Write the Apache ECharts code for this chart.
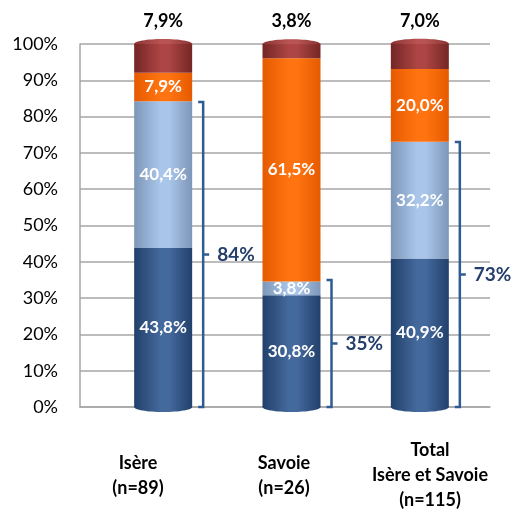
<!DOCTYPE html>
<html>
<head>
<meta charset="utf-8">
<script src="https://cdn.jsdelivr.net/npm/echarts@6/dist/echarts.min.js"></script>
<style>
  html, body { margin: 0; padding: 0; background: #ffffff; }
  #chart { width: 520px; height: 513px; }
</style>
</head>
<body>
<div id="chart"></div>
<script>
// Categories (bottom labels)
const categories = ['Isère\n(n=89)', 'Savoie\n(n=26)', 'Total\nIsère et Savoie\n(n=115)'];

// Stacked shares, in percent, bottom to top
const darkBlueValues  = [43.8, 30.8, 40.9];
const lightBlueValues = [40.4, 3.8, 32.2];
const orangeValues    = [7.9, 61.5, 20.0];
const darkRedValues   = [7.9, 3.8, 7.0];

// Combined share of the two blue segments, shown by the brackets
const bracketValues = [84, 35, 73];

// Value axis
const yMin = 0, yMax = 100, yStep = 10;

const FONT = 'Lato, "Open Sans", sans-serif';
const BAR_WIDTH = 58;
const CAP_RY = 5;

function cylinder(edge, mid) {
  return new echarts.graphic.LinearGradient(0, 0, 1, 0, [
    { offset: 0, color: edge },
    { offset: 0.45, color: mid },
    { offset: 0.6, color: mid },
    { offset: 1, color: edge }
  ]);
}

function pct(v) {
  return v.toFixed(1).replace('.', ',') + '%';
}

// Height of each stacked column, used for the cylinder caps
const stackTotals = categories.map((_, i) =>
  darkBlueValues[i] + lightBlueValues[i] + orangeValues[i] + darkRedValues[i]);

const insideLabel = {
  show: true,
  position: 'inside',
  color: '#ffffff',
  fontFamily: FONT,
  fontWeight: 'bold',
  fontSize: 17,
  formatter: p => pct(p.value)
};

function barSeries(name, data, edge, mid, label) {
  return {
    name: name,
    type: 'bar',
    stack: 'share',
    xAxisIndex: 1,
    yAxisIndex: 1,
    barWidth: BAR_WIDTH,
    data: data,
    itemStyle: { color: cylinder(edge, mid) },
    label: label,
    emphasis: { disabled: true }
  };
}

// Elliptical cap of a column at value v (bottom or top face of the cylinder)
function capSeries(values, edge, mid) {
  return {
    type: 'custom',
    xAxisIndex: 1,
    yAxisIndex: 1,
    silent: true,
    data: values.map((v, i) => [i, v]),
    renderItem: function (params, api) {
      const c = api.coord([api.value(0), api.value(1)]);
      return {
        type: 'ellipse',
        shape: { cx: c[0], cy: c[1], rx: BAR_WIDTH / 2, ry: CAP_RY },
        style: { fill: cylinder(edge, mid) }
      };
    }
  };
}

const chart = echarts.init(document.getElementById('chart'), null, { renderer: 'canvas' });

chart.setOption({
  animation: false,
  backgroundColor: '#ffffff',
  grid: [
    { left: 80, right: 30, top: 44, bottom: 106 },   // back wall with gridlines
    { left: 99, right: 36, top: 44, bottom: 106 },   // bars
    { left: 65, right: 17, top: 44, bottom: 106 }    // category labels
  ],
  xAxis: [
    {
      gridIndex: 0, type: 'category', data: categories,
      axisLine: { show: true, lineStyle: { color: '#a6a6a6', width: 1.5 } },
      axisTick: { show: false }, axisLabel: { show: false }
    },
    {
      gridIndex: 1, type: 'category', data: categories,
      axisLine: { show: false }, axisTick: { show: false }, axisLabel: { show: false }
    },
    {
      gridIndex: 2, type: 'category', data: categories,
      axisLine: { show: false }, axisTick: { show: false },
      axisLabel: {
        show: true, interval: 0, margin: 70, verticalAlign: 'middle',
        color: '#000000', fontFamily: FONT, fontWeight: 'bold', fontSize: 18, lineHeight: 25
      }
    }
  ],
  yAxis: [
    {
      gridIndex: 0, type: 'value', min: yMin, max: yMax, interval: yStep,
      axisLine: { show: true, lineStyle: { color: '#a6a6a6', width: 1.5 } },
      axisTick: { show: false },
      splitLine: { show: true, lineStyle: { color: '#a6a6a6', width: 1.5 } },
      axisLabel: {
        margin: 22, color: '#000000', fontFamily: FONT, fontSize: 18,
        formatter: '{value}%'
      }
    },
    {
      gridIndex: 1, type: 'value', min: yMin, max: yMax, interval: yStep,
      axisLine: { show: false }, axisTick: { show: false },
      splitLine: { show: false }, axisLabel: { show: false }
    },
    {
      gridIndex: 2, type: 'value', min: yMin, max: yMax, interval: yStep,
      axisLine: { show: false }, axisTick: { show: false },
      splitLine: { show: false }, axisLabel: { show: false }
    }
  ],
  series: [
    capSeries(categories.map(() => yMin), '#22406b', '#44699c'),
    barSeries('Bleu foncé', darkBlueValues, '#22406b', '#44699c', insideLabel),
    barSeries('Bleu clair', lightBlueValues, '#7d96b8', '#a9c6ea', insideLabel),
    barSeries('Orange', orangeValues, '#e65a00', '#ff7410', insideLabel),
    barSeries('Rouge', darkRedValues, '#742625', '#ac4543', {
      show: true, position: 'top', distance: 14,
      color: '#000000', fontFamily: FONT, fontWeight: 'bold', fontSize: 18,
      formatter: p => pct(p.value)
    }),
    capSeries(stackTotals, '#8a3432', '#b85452'),
    {
      type: 'custom',
      xAxisIndex: 1,
      yAxisIndex: 1,
      data: bracketValues.map((v, i) => [i, v]),
      renderItem: function (params, api) {
        const idx = api.value(0);
        const base = api.coord([idx, 0]);
        const top = api.coord([idx, api.value(1)]);
        const x = base[0] + 40;
        const y0 = base[1];
        const y1 = top[1];
        const mid = (y0 + y1) / 2;
        const stroke = { stroke: '#2f5b93', lineWidth: 2.5, fill: null };
        return {
          type: 'group',
          children: [
            { type: 'polyline', shape: { points: [[x - 5, y1], [x, y1], [x, y0], [x - 5, y0]] }, style: stroke },
            { type: 'line', shape: { x1: x, y1: mid, x2: x + 6, y2: mid }, style: stroke },
            {
              type: 'text',
              style: {
                x: x + 14, y: mid, text: api.value(1) + '%',
                textAlign: 'left', textVerticalAlign: 'middle',
                fill: '#243f6b', font: 'bold 19px ' + FONT
              }
            }
          ]
        };
      }
    }
  ]
});
</script>
</body>
</html>
